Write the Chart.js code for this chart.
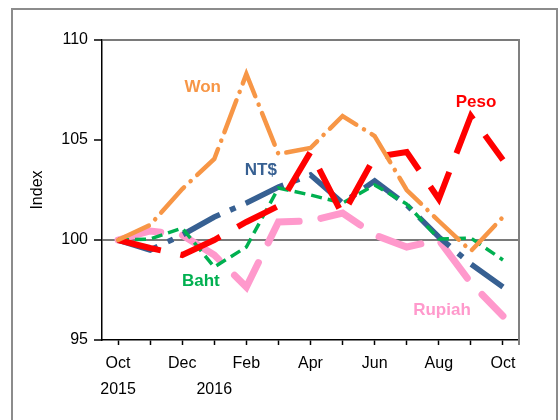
<!DOCTYPE html>
<html>
<head>
<meta charset="utf-8">
<script src="https://cdn.jsdelivr.net/npm/chart.js@4"></script>
<style>
  html, body { margin: 0; padding: 0; background: #fff; }
</style>
</head>
<body>
<canvas id="myChart" width="560" height="420"></canvas>
<script>
// months, Oct 2015 .. Oct 2016 (second line = year)
var months = [['Oct', '2015'], '', 'Dec', ['', '2016'], 'Feb', '', 'Apr', '', 'Jun', '', 'Aug', '', 'Oct'];

// index, Oct 2015 = 100
var won    = [100, 100.75, 102.55, 104.05, 108.3, 104.3, 104.6, 106.2, 105.2, 102.5, 100.95, 99.45, 101.15];
var peso   = [100, 99.6, 99.25, 100.0, 100.9, 101.7, 104.4, 101.25, 104.15, 104.4, 102.05, 106.2, 104.0];
var ntd    = [100, 99.5, 100.25, 101.15, 101.85, 102.65, 103.25, 101.85, 102.95, 101.75, 100.15, 98.8, 97.65];
var baht   = [100, 100.05, 100.6, 98.65, 99.65, 102.6, 102.25, 101.85, 102.75, 101.8, 100.05, 100.1, 99.0];
var rupiah = [100, 100.45, 100.25, 99.25, 97.65, 100.9, 100.95, 101.35, 100.25, 99.65, 100.0, 97.85, 96.2];

var yTicks = [95, 100, 105, 110];

var FONT = "'Liberation Sans', Arial, sans-serif";

// where the series names sit (category index, index value)
var nameTags = [
    { text: 'Won',    at: [2.64, 107.65], color: '#F79646' },
    { text: 'NT$',    at: [4.45, 103.5],  color: '#376092' },
    { text: 'Peso',   at: [11.16, 106.9], color: '#FF0000' },
    { text: 'Baht',   at: [2.58, 97.95],  color: '#00B050' },
    { text: 'Rupiah', at: [10.1, 96.5],   color: '#FF99CC' }
];

var framePlugin = {
    id: 'frame',
    beforeDraw: function(chart) {
        var c = chart.ctx;
        c.save();
        c.strokeStyle = '#8c8c8c';
        c.lineWidth = 2;
        c.strokeRect(12, 9, 545, 430);
        c.restore();
    },
    beforeDatasetsDraw: function(chart) {
        var c = chart.ctx, a = chart.chartArea;
        c.save();
        c.strokeStyle = '#808080';
        c.lineWidth = 2;
        c.beginPath();
        c.moveTo(a.right, a.top - 1);
        c.lineTo(a.right, a.bottom + 5);
        c.stroke();
        c.restore();
    },
    afterDatasetsDraw: function(chart) {
        var c = chart.ctx, sx = chart.scales.x, sy = chart.scales.y;
        c.save();
        c.font = 'bold 17px ' + FONT;
        c.textAlign = 'center';
        c.textBaseline = 'middle';
        nameTags.forEach(function(t) {
            c.fillStyle = t.color;
            c.fillText(t.text, sx.getPixelForValue(t.at[0]), sy.getPixelForValue(t.at[1]));
        });
        c.restore();
    }
};

function line(data, color, width, dash, cap) {
    return {
        data: data,
        borderColor: color,
        backgroundColor: color,
        borderWidth: width,
        borderDash: dash,
        borderCapStyle: cap,
        borderJoinStyle: 'miter',
        pointRadius: 0,
        tension: 0,
        fill: false
    };
}

var ctx = document.getElementById('myChart').getContext('2d');
var chart = new Chart(ctx, {
    type: 'line',
    data: {
        labels: months,
        datasets: [
            line(won, '#F79646', 4.5, [34, 9, 0.1, 9], 'round'),
            line(peso, '#FF0000', 6, [44, 20], 'butt'),
            line(baht, '#00B050', 3.5, [11, 6], 'butt'),
            line(ntd, '#376092', 5.5, [42, 11, 6, 11], 'butt'),
            line(rupiah, '#FF99CC', 7, [44, 22], 'round')
        ]
    },
    options: {
        responsive: false,
        animation: false,
        layout: { padding: { top: 40, right: 41, bottom: 0, left: 0 } },
        plugins: {
            legend: { display: false },
            tooltip: { enabled: false }
        },
        scales: {
            x: {
                offset: true,
                border: { color: '#000', width: 1.5 },
                grid: {
                    offset: false,
                    drawOnChartArea: false,
                    tickLength: 5,
                    tickColor: '#000',
                    tickWidth: 1.5
                },
                ticks: {
                    autoSkip: false,
                    maxRotation: 0,
                    padding: 6,
                    color: '#000',
                    font: { family: FONT, size: 16, lineHeight: 1.625 }
                },
                afterFit: function(s) { s.height = 80; }
            },
            y: {
                min: 95,
                max: 110,
                afterBuildTicks: function(s) {
                    s.ticks = yTicks.map(function(v) { return { value: v }; });
                },
                border: { color: '#000', width: 1.5 },
                grid: {
                    color: function(c) {
                        var v = c.tick && c.tick.value;
                        return (v === 100 || v === 110) ? '#7a7a7a' : 'rgba(0,0,0,0)';
                    },
                    lineWidth: 2,
                    tickLength: 8,
                    tickColor: '#000',
                    tickWidth: 1.5
                },
                ticks: {
                    padding: 6,
                    color: '#000',
                    font: { family: FONT, size: 16 }
                },
                title: {
                    display: true,
                    text: 'Index',
                    color: '#000',
                    font: { family: FONT, size: 16 },
                    padding: { top: 28, bottom: 0 }
                },
                afterFit: function(s) { s.width = 102; }
            }
        }
    },
    plugins: [framePlugin]
});
</script>
</body>
</html>
